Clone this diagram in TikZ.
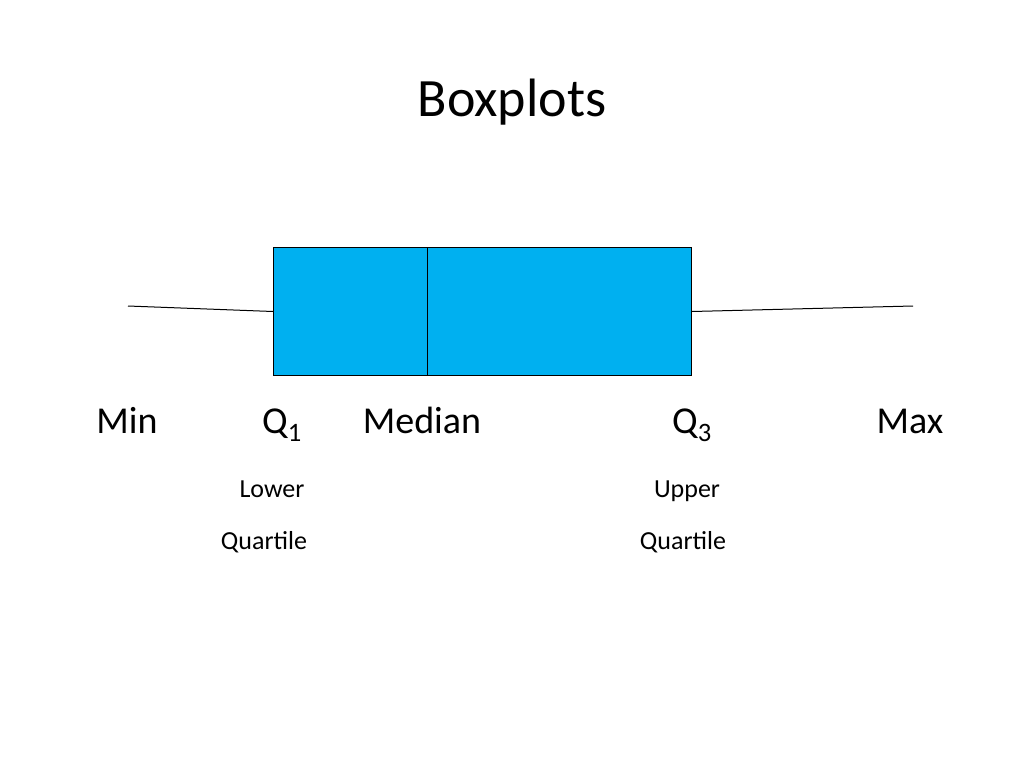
\documentclass[tikz,border=0pt]{standalone}
\usepackage{fontspec}
\setmainfont{Carlito}
\definecolor{boxblue}{HTML}{00B0F0}
\begin{document}
\begin{tikzpicture}[x=1pt,y=-1pt,
  big/.style={font=\fontsize{38}{40}\selectfont,anchor=base},
  small/.style={font=\fontsize{26}{28}\selectfont,anchor=base},
  line/.style={draw=black,line width=1pt}]
\useasboundingbox (0,0) rectangle (1024,768);
\node[font=\fontsize{54}{56}\selectfont,anchor=base] (title) at (512,116) {Boxplots};
\node[draw=black,fill=boxblue,line width=1pt,minimum width=418pt,minimum height=128pt,inner sep=0pt,anchor=north west] (box) at (273,247) {};
\coordinate (mt) at (427,247);
\coordinate (mb) at (427,375);
\draw[line] (mt) -- (mb);
\coordinate (wl) at (128,306);
\coordinate (wr) at (913,306);
\draw[line] (wl) -- (box.west);
\draw[line] (box.east) -- (wr);
\node[big] (min) at (127,433) {Min};
\node[big] (q1) at (282,433) {Q\textsubscript{1}};
\node[big] (med) at (422,433) {Median};
\node[big] (q3) at (692,433) {Q\textsubscript{3}};
\node[big] (max) at (910,433) {Max};
\node[small] (lo) at (272,497) {Lower};
\node[small] (loq) at (264,549) {Quartile};
\node[small] (up) at (687,497) {Upper};
\node[small] (upq) at (683,549) {Quartile};
\end{tikzpicture}
\end{document}
